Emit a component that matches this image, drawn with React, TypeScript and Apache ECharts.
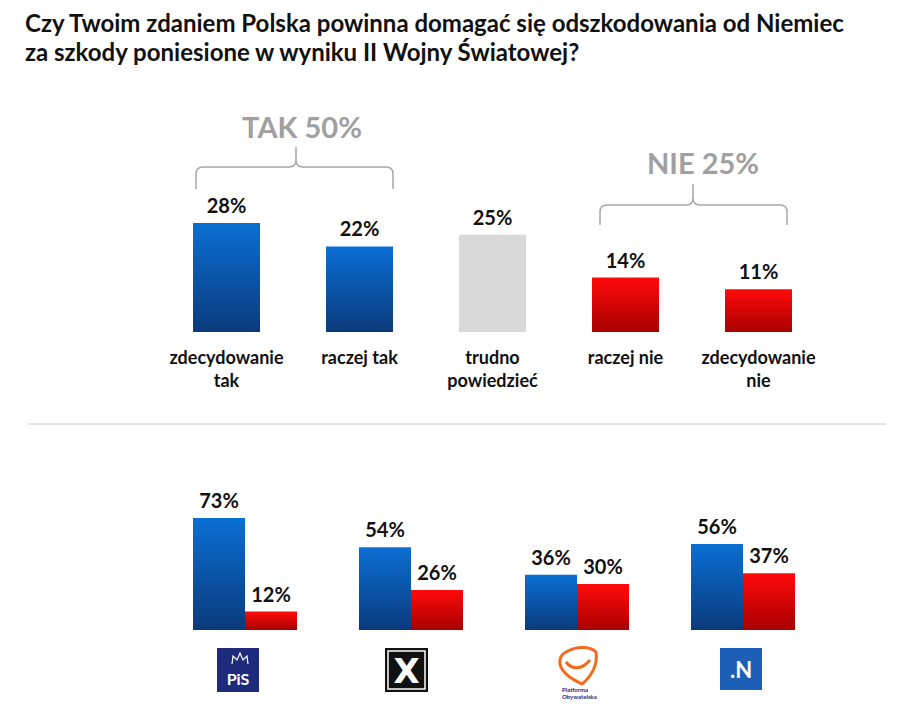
import React, { useEffect, useRef } from "react";
import * as echarts from "echarts";

const TITLE = "Czy Twoim zdaniem Polska powinna domagać się odszkodowania od Niemiec\nza szkody poniesione w wyniku II Wojny Światowej?";

const topCategories = ["zdecydowanie\ntak", "raczej tak", "trudno\npowiedzieć", "raczej nie", "zdecydowanie\nnie"];
const topValues = [28, 22, 25, 14, 11];
const topColorKeys = ["blue", "blue", "gray", "red", "red"];

const groupLabels = ["TAK 50%", "NIE 25%"];

const partyCategories = ["PiS", "Kukiz'15", "Platforma Obywatelska", "Nowoczesna"];
const partyYes = [73, 54, 36, 56];
const partyNo = [12, 26, 30, 37];

const FONT = "Lato, 'Open Sans', sans-serif";

const blueGrad = () =>
  new echarts.graphic.LinearGradient(0, 0, 0, 1, [
    { offset: 0, color: "#0a6fd3" },
    { offset: 1, color: "#0b3a7c" },
  ]);
const redGrad = () =>
  new echarts.graphic.LinearGradient(0, 0, 0, 1, [
    { offset: 0, color: "#ff0a0a" },
    { offset: 1, color: "#a80000" },
  ]);
const colorFor = (k: string) => (k === "blue" ? blueGrad() : k === "red" ? redGrad() : "#d9d9d9");

function bracePath(x1: number, x2: number, xm: number, yEnd: number, yH: number, yTop: number, r: number) {
  return [
    `M ${x1} ${yEnd}`,
    `L ${x1} ${yH + r}`,
    `Q ${x1} ${yH} ${x1 + r} ${yH}`,
    `L ${xm - r} ${yH}`,
    `Q ${xm} ${yH} ${xm} ${yH - r}`,
    `L ${xm} ${yTop}`,
    `M ${xm} ${yH - r}`,
    `Q ${xm} ${yH} ${xm + r} ${yH}`,
    `L ${x2 - r} ${yH}`,
    `Q ${x2} ${yH} ${x2} ${yH + r}`,
    `L ${x2} ${yEnd}`,
  ].join(" ");
}

let registered = false;
function registerShapes() {
  if (registered) return;
  registered = true;
  echarts.graphic.registerShape("braceTak", echarts.graphic.extendPath(bracePath(196, 393, 296, 189, 167, 147, 7) as any, {}) as any);
  echarts.graphic.registerShape("braceNie", echarts.graphic.extendPath(bracePath(600, 787, 693, 225, 205, 184, 7) as any, {}) as any);
  echarts.graphic.registerShape(
    "poLogo",
    echarts.graphic.extendPath(
      "M 566 652 C 576 646 590 646 596 652 C 598 664 592 676 582 684 C 574 680 562 674 560 664 C 559 658 562 654 566 652 Z M 566 662 C 572 670 582 670 590 660" as any,
      {}
    ) as any
  );
}

export default function App() {
  const ref = useRef<HTMLDivElement>(null);
  useEffect(() => {
    if (!ref.current) return;
    registerShapes();
    const chart = echarts.init(ref.current, undefined, { renderer: "svg" });
    const labelStyle = {
      show: true,
      position: "top" as const,
      distance: 8,
      formatter: "{c}%",
      color: "#111",
      fontSize: 20,
      fontWeight: "bold" as const,
      fontFamily: FONT,
    };
    chart.setOption({
      animation: false,
      backgroundColor: "#fff",
      title: {
        text: TITLE,
        left: 20,
        top: 3,
        textStyle: { fontSize: 24, fontWeight: "bold", color: "#111", fontFamily: FONT, lineHeight: 29 },
      },
      grid: [
        { left: 160, width: 665, top: 215.3, height: 116.7 },
        { left: 162, width: 664, top: 507.3, height: 122.7 },
      ],
      xAxis: [
        {
          type: "category",
          gridIndex: 0,
          data: topCategories,
          axisLine: { show: false },
          axisTick: { show: false },
          axisLabel: {
            interval: 0,
            margin: 13,
            color: "#111",
            fontSize: 18,
            fontWeight: "bold",
            fontFamily: FONT,
            lineHeight: 23,
          },
        },
        {
          type: "category",
          gridIndex: 1,
          data: partyCategories,
          axisLine: { show: false },
          axisTick: { show: false },
          axisLabel: { show: false },
        },
      ],
      yAxis: [
        { type: "value", gridIndex: 0, min: 0, max: 30, show: false },
        { type: "value", gridIndex: 1, min: 0, max: 80, show: false },
      ],
      series: [
        {
          type: "bar",
          xAxisIndex: 0,
          yAxisIndex: 0,
          barWidth: 67,
          data: topValues.map((v, i) => ({ value: v, itemStyle: { color: colorFor(topColorKeys[i]) } })),
          label: labelStyle,
        },
        {
          type: "bar",
          xAxisIndex: 1,
          yAxisIndex: 1,
          barWidth: 52,
          barGap: "0%",
          data: partyYes,
          itemStyle: { color: blueGrad() },
          label: labelStyle,
        },
        {
          type: "bar",
          xAxisIndex: 1,
          yAxisIndex: 1,
          barWidth: 52,
          barGap: "0%",
          data: partyNo,
          itemStyle: { color: redGrad() },
          label: labelStyle,
        },
      ],
      graphic: [
        { type: "braceTak", x: 0, y: 0, style: { fill: "none", stroke: "#a6a6a6", lineWidth: 1.5 } },
        { type: "braceNie", x: 0, y: 0, style: { fill: "none", stroke: "#a6a6a6", lineWidth: 1.5 } },
        {
          type: "text",
          x: 302,
          y: 126,
          style: { text: groupLabels[0], fill: "#a0a0a0", fontSize: 29, fontWeight: "bold", fontFamily: FONT, align: "center", verticalAlign: "middle" },
        },
        {
          type: "text",
          x: 703,
          y: 162,
          style: { text: groupLabels[1], fill: "#a0a0a0", fontSize: 29, fontWeight: "bold", fontFamily: FONT, align: "center", verticalAlign: "middle" },
        },
        { type: "line", shape: { x1: 28, y1: 424, x2: 886, y2: 424 }, style: { stroke: "#c8c8c8", lineWidth: 1 } },
        // PiS logo
        { type: "rect", shape: { x: 217, y: 648, width: 42, height: 44 }, style: { fill: "#1e2b7c" } },
        {
          type: "polyline",
          shape: { points: [[232, 664], [233, 656], [237, 660], [240, 653], [243, 660], [247, 656], [248, 664]] },
          style: { stroke: "#fff", fill: "none", lineWidth: 1.2 },
        },
        {
          type: "text",
          x: 238,
          y: 678,
          style: { text: "PiS", fill: "#fff", fontSize: 16, fontWeight: "bold", fontFamily: FONT, align: "center", verticalAlign: "middle" },
        },
        // Kukiz logo
        { type: "rect", shape: { x: 385, y: 648, width: 43, height: 44 }, style: { fill: "#111" } },
        { type: "rect", shape: { x: 388, y: 651, width: 37, height: 38 }, style: { fill: "#111", stroke: "#fff", lineWidth: 1.5 } },
        {
          type: "text",
          x: 406.5,
          y: 671,
          style: { text: "X", fill: "#fff", fontSize: 34, fontWeight: "bold", fontFamily: "'DejaVu Sans', sans-serif", align: "center", verticalAlign: "middle" },
        },
        // PO logo
        { type: "poLogo", x: 0, y: 0, style: { fill: "none", stroke: "#f26a1b", lineWidth: 3 } },
        {
          type: "text",
          x: 562,
          y: 686,
          style: { text: "Platforma\nObywatelska", fill: "#1e2b7c", fontSize: 6, fontWeight: "bold", fontFamily: FONT, lineHeight: 7, align: "left", verticalAlign: "top" },
        },
        // Nowoczesna logo
        { type: "rect", shape: { x: 720, y: 648, width: 42, height: 42 }, style: { fill: "#1d5fb6" } },
        {
          type: "text",
          x: 741,
          y: 669,
          style: { text: ".N", fill: "#fff", fontSize: 22, fontWeight: "bold", fontFamily: FONT, align: "center", verticalAlign: "middle" },
        },
      ],
    });
    return () => chart.dispose();
  }, []);
  return <div ref={ref} style={{ position: "absolute", left: 0, top: 0, width: 900, height: 720 }} />;
}
